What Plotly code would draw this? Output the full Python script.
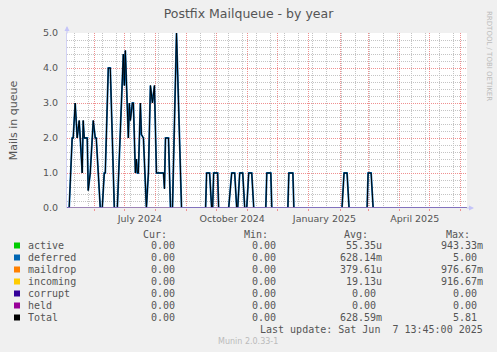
import plotly.graph_objects as go

# ---- data ----
dates = [
    "2024-05-05", "2024-05-07", "2024-05-10", "2024-05-11", "2024-05-13", "2024-05-15",
    "2024-05-17", "2024-05-20", "2024-05-21", "2024-05-22", "2024-05-25", "2024-05-26",
    "2024-05-28", "2024-05-31", "2024-06-02", "2024-06-03", "2024-06-05", "2024-06-07",
    "2024-06-09", "2024-06-11", "2024-06-12", "2024-06-15", "2024-06-17", "2024-06-21",
    "2024-06-24", "2024-06-27", "2024-06-30", "2024-07-01", "2024-07-02", "2024-07-05",
    "2024-07-06", "2024-07-07", "2024-07-09", "2024-07-10", "2024-07-12", "2024-07-13",
    "2024-07-14", "2024-07-15", "2024-07-17", "2024-07-18", "2024-07-20", "2024-07-23",
    "2024-07-25", "2024-07-27", "2024-07-29", "2024-07-31", "2024-08-02", "2024-08-09",
    "2024-08-10", "2024-08-11", "2024-08-14", "2024-08-16", "2024-08-18", "2024-08-22",
    "2024-08-27",
    "2024-09-20", "2024-09-21", "2024-09-24", "2024-09-26",
    "2024-09-27", "2024-09-28", "2024-10-02", "2024-10-03",
    "2024-10-13", "2024-10-16", "2024-10-19", "2024-10-21",
    "2024-10-22", "2024-10-24", "2024-10-27", "2024-10-29",
    "2024-10-31", "2024-11-02", "2024-11-05", "2024-11-07",
    "2024-11-19", "2024-11-20", "2024-11-24", "2024-11-25",
    "2024-12-11", "2024-12-12", "2024-12-16", "2024-12-17",
    "2025-02-03", "2025-02-05", "2025-02-08", "2025-02-10",
    "2025-02-28", "2025-03-01", "2025-03-04", "2025-03-06",
    "2025-06-07",
]
total = [
    0, 0, 2.0, 2.0, 3.0, 2.0,
    2.5, 1.0, 2.5, 2.0, 2.0, 0.5,
    1.0, 2.5, 2.0, 2.0, 1.0, 0,
    0, 1.0, 1.0, 4.0, 4.0, 0,
    0, 2.0, 4.4, 3.5, 4.5, 2.0,
    3.0, 2.5, 3.0, 3.0, 1.0, 1.4,
    1.0, 1.0, 3.0, 2.1, 2.0, 0,
    1.0, 3.5, 3.0, 3.5, 1.0, 1.0,
    0.55, 2.0, 2.0, 0, 0, 5.0,
    0,
    0, 1, 1, 0,
    0, 1, 1, 0,
    0, 1, 1, 0,
    0, 1, 1, 0,
    0, 1, 1, 0,
    0, 1, 1, 0,
    0, 1, 1, 0,
    0, 1, 1, 0,
    0, 1, 1, 0,
    0,
]
deferred = total  # deferred is practically identical to the total in the picture

span = ["2024-05-05", "2025-06-07"]
active = [0, 0]
maildrop = [0, 0]
incoming = [0, 0]
corrupt = [0, 0]
held = [0, 0]

x_range = ["2024-05-04 20:00", "2025-06-07 13:45"]
month_labels = ["July 2024", "October 2024", "January 2025", "April 2025"]
month_label_pos = ["2024-07-16 12:00", "2024-10-16 12:00", "2025-01-16 12:00", "2025-04-16 12:00"]
y_ticks = [0, 1, 2, 3, 4, 5]
y_minor = [0.2, 0.4, 0.6, 0.8, 1.2, 1.4, 1.6, 1.8, 2.2, 2.4, 2.6, 2.8,
           3.2, 3.4, 3.6, 3.8, 4.2, 4.4, 4.6, 4.8]

names = ["active", "deferred", "maildrop", "incoming", "corrupt", "held", "Total"]
colors = ["#00CC00", "#0066B3", "#FF8000", "#FFCC00", "#330099", "#990099", "#000000"]
cur = ["0.00", "0.00", "0.00", "0.00", "0.00", "0.00", "0.00"]
mins = ["0.00", "0.00", "0.00", "0.00", "0.00", "0.00", "0.00"]
avgs = ["55.35u", "628.14m", "379.61u", "19.13u", "0.00", "0.00", "628.59m"]
maxs = ["943.33m", "5.00", "976.67m", "916.67m", "0.00", "0.00", "5.81"]

# ---- geometry ----
W, H = 497, 352
L, R, T, B = 67, 467, 33, 208
def px(x):
    return (x - L) / (R - L)
def py(y):
    return (B - y) / (B - T)

MGRID = "#F09090"
GRID = "#C4C4C4"
TXT = "#555555"

fig = go.Figure()
fig.add_trace(go.Scatter(x=span, y=corrupt, mode="lines", name="corrupt",
                         line=dict(color="#330099", width=1), xaxis="x", yaxis="y2"))
for nm, vals, col in [("active", active, "#00CC00"), ("maildrop", maildrop, "#FF8000"),
                      ("incoming", incoming, "#FFCC00")]:
    fig.add_trace(go.Scatter(x=span, y=vals, mode="lines", name=nm,
                             line=dict(color=col, width=1), xaxis="x", yaxis="y"))
fig.add_trace(go.Scatter(x=dates, y=deferred, mode="lines", name="deferred",
                         line=dict(color="#0066B3", width=1.8), xaxis="x", yaxis="y"))
fig.add_trace(go.Scatter(x=dates, y=total, mode="lines", name="Total",
                         line=dict(color="#000000", width=1.0), xaxis="x", yaxis="y"))
fig.add_trace(go.Scatter(x=span, y=held, mode="lines", name="held",
                         line=dict(color="#A58FD4", width=1.5), xaxis="x2", yaxis="y"))

fig.update_layout(
    width=W, height=H,
    margin=dict(l=L, r=W - R, t=T, b=H - B),
    paper_bgcolor="#F0F0F0", plot_bgcolor="#FFFFFF",
    showlegend=False,
    font=dict(family="DejaVu Sans", size=9.5, color=TXT),
    title=dict(text="Postfix Mailqueue - by year", x=0.5, xanchor="center",
               y=1 - 13.5 / H, yanchor="middle", yref="container",
               font=dict(family="DejaVu Sans", size=12.5, color=TXT)),
    xaxis=dict(type="date", range=x_range, tickmode="array",
               tickvals=month_label_pos, ticktext=month_labels,
               showgrid=False, zeroline=False, showline=False, ticks="",
               ticklabelstandoff=3, automargin=False,
               tickfont=dict(family="DejaVu Sans", size=9.5, color=TXT),
               minor=dict(dtick=14 * 86400000, tick0="2024-05-12", showgrid=True,
                          gridcolor=GRID, griddash="1px,1px", gridwidth=1)),
    xaxis2=dict(type="date", range=x_range, overlaying="x", anchor="y",
                dtick="M1", tick0="2024-06-01", showticklabels=False,
                showgrid=True, gridcolor=MGRID, griddash="1px,1px", gridwidth=1,
                ticks="outside", ticklen=2, tickcolor=MGRID, zeroline=False,
                automargin=False),
    yaxis=dict(range=[0, 5], tickmode="array", tickvals=y_ticks,
               tickformat=".1f", showgrid=True, gridcolor=MGRID, griddash="1px,1px",
               gridwidth=1, automargin=False,
               zeroline=False, showline=True, linecolor="#D2D2F4", linewidth=1,
               ticks="", ticklabelstandoff=6,
               tickfont=dict(family="DejaVu Sans", size=9.5, color=TXT),
               title=dict(text="Mails in queue", standoff=23,
                          font=dict(family="DejaVu Sans", size=11, color=TXT))),
    yaxis2=dict(range=[0, 5], overlaying="y", anchor="x", side="left",
                tickmode="array", tickvals=y_minor, showticklabels=False,
                showgrid=True, gridcolor=GRID, griddash="1px,1px", gridwidth=1,
                zeroline=False, showline=False, ticks="", automargin=False),
)

# axis arrows
fig.add_annotation(x=0, y=py(26), xref="paper", yref="paper", text="",
                   showarrow=True, arrowhead=2, arrowsize=1, arrowwidth=1,
                   arrowcolor="#C4C4F8", ax=0, ay=9)
fig.add_annotation(x=px(474), y=0, xref="paper", yref="paper", text="",
                   showarrow=True, arrowhead=2, arrowsize=1, arrowwidth=1,
                   arrowcolor="#C4C4F8", ax=-9, ay=0)

# watermark
fig.add_annotation(x=px(489), y=py(56), xref="paper", yref="paper",
                   text="RRDTOOL / TOBI OETIKER", textangle=90, showarrow=False,
                   xanchor="center", yanchor="middle",
                   font=dict(family="DejaVu Sans", size=7, color="#BBBBBB"))

MONO = "DejaVu Sans Mono"
def txt(x, y, s, anchor="right", color=TXT, size=10, family=MONO):
    fig.add_annotation(x=px(x), y=py(y), xref="paper", yref="paper", text=s,
                       showarrow=False, xanchor=anchor, yanchor="middle", borderpad=0,
                       font=dict(family=family, size=size, color=color))

# legend table header
txt(167.5, 234, "Cur:")
txt(269, 234, "Min:")
txt(369, 234, "Avg:")
txt(471, 234, "Max:")

def right_edge(base, s):
    return base if s[-1].isalpha() else base - 6

for i, nm in enumerate(names):
    yy = 245.5 + 12 * i
    fig.add_shape(type="rect", xref="paper", yref="paper",
                  x0=px(14), x1=px(20), y0=py(yy - 3), y1=py(yy + 3),
                  fillcolor=colors[i], line=dict(width=0))
    txt(26.5, yy, nm, anchor="left")
    txt(right_edge(181.5, cur[i]), yy, cur[i])
    txt(right_edge(282.5, mins[i]), yy, mins[i])
    txt(right_edge(383, avgs[i]), yy, avgs[i])
    txt(right_edge(484, maxs[i]), yy, maxs[i])

txt(484, 329.5, "Last update: Sat Jun\u00a0 7 13:45:00 2025")
txt(248, 341, "Munin 2.0.33-1", anchor="center", color="#BBBBBB", size=8, family="DejaVu Sans")

fig.write_html("out.html")
